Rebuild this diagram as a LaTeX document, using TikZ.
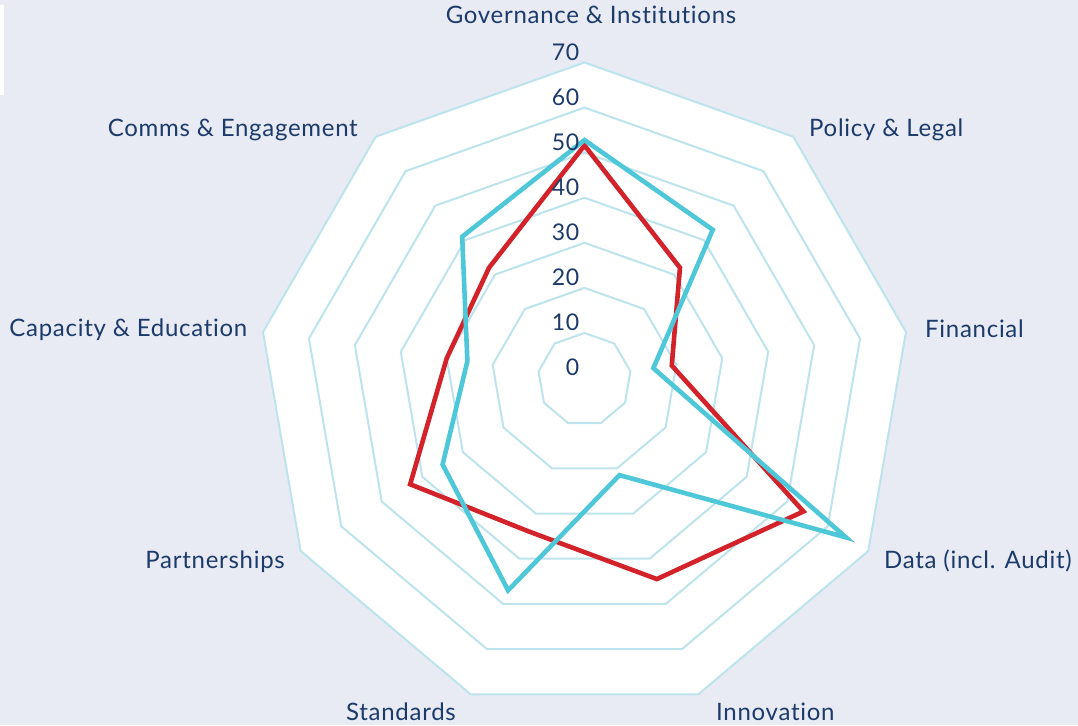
\documentclass[tikz,border=0pt]{standalone}
\usepackage{fontspec}
\setmainfont{Lato}[LetterSpace=3,Ligatures=NoCommon]
\usetikzlibrary{calc}
\definecolor{bg}{HTML}{E8EBF3}
\definecolor{ringc}{HTML}{BDE4EC}
\definecolor{redl}{HTML}{D3222A}
\definecolor{cyanl}{HTML}{4EC7D9}
\definecolor{txt}{HTML}{1C3A6A}
\begin{document}
\begin{tikzpicture}[x=1pt,y=-1pt,
  ringline/.style={draw=ringc,line width=2pt,line join=miter},
  serieslineA/.style={draw=redl,line width=4.6pt,line join=miter,miter limit=12},
  serieslineB/.style={draw=cyanl,line width=4.6pt,line join=miter,miter limit=12},
  axlab/.style={text=txt,font=\fontsize{24}{27}\selectfont,inner sep=0pt},
  numlab/.style={text=txt,font=\fontsize{23}{26}\selectfont,inner sep=0pt,anchor=base east}]
\fill[bg] (0,0) rectangle (1078,725);
\useasboundingbox (0,0) rectangle (1078,725);
\fill[white] (0,5) rectangle (4,95);
% centre and outer (70) vertices
\coordinate (C) at (584.5,378);
\coordinate (A0) at (584.5,62.5);
\coordinate (A1) at (793.3,136.7);
\coordinate (A2) at (906,332);
\coordinate (A3) at (868.3,551);
\coordinate (A4) at (698.3,694.3);
\coordinate (A5) at (470.7,694.3);
\coordinate (A6) at (300.7,551);
\coordinate (A7) at (263,332);
\coordinate (A8) at (375.7,136.7);
% white plot area
\fill[white] (A0) \foreach \k in {1,...,8}{ -- (A\k)} -- cycle;
% rings
\foreach \v in {10,20,...,70}{
  \draw[ringline] ($(C)!{\v/70}!(A0)$) \foreach \k in {1,...,8}{ -- ($(C)!{\v/70}!(A\k)$)} -- cycle;
}
% series values
\def\redvals{{51.6,32,19,54,44.5,34,43,30,32}}
\def\cyanvals{{52.8,43,15,64.5,21.5,47,35,25.5,41}}
\foreach \k in {0,...,8}{
  \pgfmathsetmacro{\rv}{\redvals[\k]/70}
  \pgfmathsetmacro{\cv}{\cyanvals[\k]/70}
  \coordinate (R\k) at ($(C)!\rv!(A\k)$);
  \coordinate (B\k) at ($(C)!\cv!(A\k)$);
}
\draw[serieslineA] (R0) \foreach \k in {1,...,8}{ -- (R\k)} -- cycle;
\draw[serieslineB] (B0) \foreach \k in {1,...,8}{ -- (B\k)} -- cycle;
% value labels
\foreach \v in {0,10,...,70}{
  \pgfmathsetmacro{\yy}{378-4.507*\v-2.5}
  \node[numlab] (n\v) at (579.5,\yy) {\v};
}
% axis labels
\node[axlab,anchor=base] (l0) at (591,23.3) {Governance \& Institutions};
\node[axlab,anchor=base west] (l1) at (809,136.7) {Policy \& Legal};
\node[axlab,anchor=base west] (l2) at (925,337.3) {Financial};
\node[axlab,anchor=base west] (l3) at (884,568.5) {Data (incl. Audit)};
\node[axlab,anchor=base west] (l4) at (716,720) {Innovation};
\node[axlab,anchor=base east] (l5) at (456,720) {Standards};
\node[axlab,anchor=base east] (l6) at (285,568.5) {Partnerships};
\node[axlab,anchor=base east] (l7) at (247.5,336) {Capacity \& Education};
\node[axlab,anchor=base east] (l8) at (358,136.7) {Comms \& Engagement};
\end{tikzpicture}
\end{document}
